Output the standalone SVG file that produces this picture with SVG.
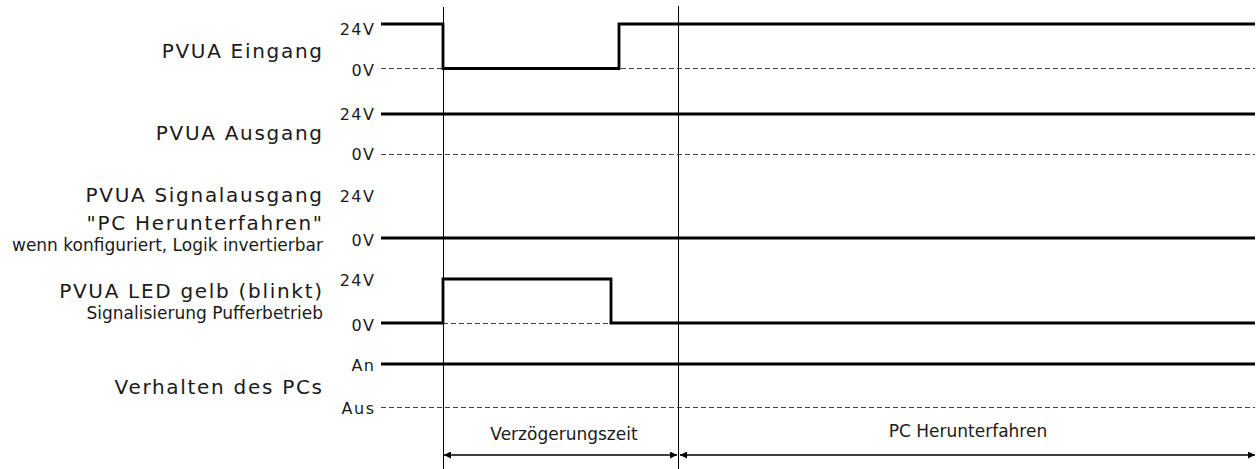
<svg xmlns="http://www.w3.org/2000/svg" width="1259" height="469" viewBox="0 0 1259 469">
  <style>
    .title { font-family: "DejaVu Sans", Verdana, sans-serif; font-size: 20px; letter-spacing: 1.7px; fill: #1a1a1a; text-anchor: end; }
    .sub { font-family: "DejaVu Sans", Verdana, sans-serif; font-size: 17px; fill: #1a1a1a; text-anchor: end; }
    .lvl { font-family: "DejaVu Sans", Verdana, sans-serif; font-size: 16px; letter-spacing: 1.5px; fill: #1a1a1a; text-anchor: end; }
    .span { font-family: "DejaVu Sans", Verdana, sans-serif; font-size: 17px; fill: #1a1a1a; text-anchor: middle; }
    .sig { fill: none; stroke: #000; stroke-width: 2.8; stroke-linejoin: miter; stroke-linecap: butt; }
    .ref { fill: none; stroke: #444; stroke-width: 1.2; stroke-dasharray: 5 3; }
    .mark { fill: none; stroke: #000; stroke-width: 1; }
    .dim { fill: none; stroke: #000; stroke-width: 1.6; }
  </style>
  <defs>
    <marker id="arrowEnd" viewBox="0 0 10 10" refX="10" refY="5" markerWidth="7" markerHeight="7" markerUnits="userSpaceOnUse" orient="auto">
      <path d="M0,0 L10,5 L0,10 Z" fill="#000"/>
    </marker>
    <marker id="arrowStart" viewBox="0 0 10 10" refX="0" refY="5" markerWidth="7" markerHeight="7" markerUnits="userSpaceOnUse" orient="auto">
      <path d="M10,0 L0,5 L10,10 Z" fill="#000"/>
    </marker>
  </defs>

  <!-- time markers -->
  <g id="time-markers">
    <line class="mark" x1="443.5" y1="7" x2="443.5" y2="469"/>
    <line class="mark" x1="678.5" y1="6" x2="678.5" y2="469"/>
  </g>

  <!-- PVUA Eingang -->
  <g id="pvua-eingang">
    <text class="title" x="323.7" y="58">PVUA Eingang</text>
    <text class="lvl" x="375.5" y="35">24V</text>
    <text class="lvl" x="375.5" y="76">0V</text>
    <line class="ref" x1="381" y1="68.5" x2="1255" y2="68.5"/>
    <path class="sig" d="M381,24 H443 V68.5 H619 V24 H1255"/>
  </g>

  <!-- PVUA Ausgang -->
  <g id="pvua-ausgang">
    <text class="title" x="323.7" y="140">PVUA Ausgang</text>
    <text class="lvl" x="375.5" y="120">24V</text>
    <text class="lvl" x="375.5" y="160">0V</text>
    <line class="ref" x1="381" y1="154.5" x2="1255" y2="154.5"/>
    <path class="sig" d="M381,114 H1255"/>
  </g>

  <!-- PVUA Signalausgang -->
  <g id="pvua-signalausgang">
    <text class="title" x="323.7" y="202">PVUA Signalausgang</text>
    <text class="title" x="323.7" y="230">"PC Herunterfahren"</text>
    <text class="sub" x="323" y="251">wenn konfiguriert, Logik invertierbar</text>
    <text class="lvl" x="375.5" y="202">24V</text>
    <text class="lvl" x="375.5" y="246">0V</text>
    <path class="sig" d="M381,238 H1255"/>
  </g>

  <!-- PVUA LED gelb -->
  <g id="pvua-led">
    <text class="title" x="323.7" y="298">PVUA LED gelb (blinkt)</text>
    <text class="sub" x="323" y="319">Signalisierung Pufferbetrieb</text>
    <text class="lvl" x="375.5" y="286">24V</text>
    <text class="lvl" x="375.5" y="331">0V</text>
    <line class="ref" x1="443" y1="323.5" x2="611" y2="323.5"/>
    <path class="sig" d="M381,323 H443 V279 H611 V323 H1255"/>
  </g>

  <!-- Verhalten des PCs -->
  <g id="pc-verhalten">
    <text class="title" x="323.7" y="394">Verhalten des PCs</text>
    <text class="lvl" x="375.5" y="371">An</text>
    <text class="lvl" x="375.5" y="414">Aus</text>
    <line class="ref" x1="381" y1="407.5" x2="1255" y2="407.5"/>
    <path class="sig" d="M381,364 H1255"/>
  </g>

  <!-- time spans -->
  <g id="connectors">
    <line class="dim" x1="444" y1="455" x2="677" y2="455" marker-start="url(#arrowStart)" marker-end="url(#arrowEnd)"/>
    <line class="dim" x1="680" y1="455" x2="1255" y2="455" marker-start="url(#arrowStart)" marker-end="url(#arrowEnd)"/>
  </g>
  <g id="span-verzoegerung">
    <text class="span" x="564" y="440">Verzögerungszeit</text>
  </g>
  <g id="span-herunterfahren">
    <text class="span" x="968" y="437">PC Herunterfahren</text>
  </g>
</svg>
